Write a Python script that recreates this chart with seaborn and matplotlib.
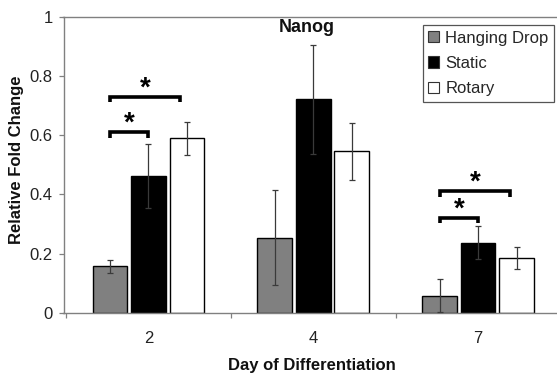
import matplotlib
matplotlib.use("Agg")
import matplotlib.pyplot as plt
import seaborn as sns
import pandas as pd
import numpy as np

# ---- data ----
days = ["2", "4", "7"]
methods = ["Hanging Drop", "Static", "Rotary"]
hanging_drop = [0.158, 0.254, 0.058]
static = [0.463, 0.721, 0.237]
rotary = [0.589, 0.545, 0.186]
hanging_drop_err = [0.022, 0.160, 0.055]
static_err = [0.108, 0.185, 0.055]
rotary_err = [0.055, 0.097, 0.038]
y_ticks = [0, 0.2, 0.4, 0.6, 0.8, 1]
y_tick_labels = ["0", "0.2", "0.4", "0.6", "0.8", "1"]
# significance brackets: (day index, method a, method b, height)
sig_day = [0, 0, 2, 2]
sig_from = [0, 0, 0, 0]
sig_to = [1, 2, 1, 2]
sig_height = [0.61, 0.73, 0.32, 0.41]

colors = ["#808080", "#000000", "#ffffff"]

sns.set_style("white")
plt.rcParams["font.family"] = ["Liberation Sans", "DejaVu Sans"]

df = pd.DataFrame({
    "day": days * 3,
    "method": [m for m in methods for _ in days],
    "value": hanging_drop + static + rotary,
})
errs = [hanging_drop_err, static_err, rotary_err]

W, H = 557, 374
fig = plt.figure(figsize=(W / 100, H / 100), dpi=100)
x0, x1 = 63.5, 560.5
y0, y1 = 312.9, 16.7
ax = fig.add_axes([x0 / W, (H - y0) / H, (x1 - x0) / W, (y0 - y1) / H])

sns.barplot(data=df, x="day", y="value", hue="method", hue_order=methods,
            order=days, palette=colors, edgecolor="black", linewidth=1.0,
            width=0.7, gap=0.1, errorbar=None, ax=ax, saturation=1)

bar_containers = list(ax.containers)
centers = []
for i, cont in enumerate(bar_containers):
    cx = [p.get_x() + p.get_width() / 2 for p in cont.patches]
    hy = [p.get_height() for p in cont.patches]
    centers.append(cx)
    ax.errorbar(cx, hy, yerr=errs[i], fmt="none", ecolor="#3a3a3a",
                elinewidth=0.9, capsize=2, capthick=0.9, zorder=5)

ax.set_xlim(-0.515, 2.5)
ax.set_ylim(0, 1)

# y axis
ax.set_yticks(y_ticks)
ax.set_yticklabels(y_tick_labels)
ax.tick_params(axis="y", direction="out", length=3.6, width=0.9,
               color="#808080", labelsize=12, pad=4.3, labelcolor="#222222",
               left=True)

# x axis: ticks at category boundaries, labels centered
ax.set_xticks([-0.5, 0.5, 1.5, 2.5])
ax.set_xticklabels([])
ax.set_xticks([0, 1, 2], minor=True)
ax.set_xticklabels(days, minor=True)
ax.tick_params(axis="x", which="major", direction="out", length=3.6,
               width=0.9, color="#808080", bottom=True)
ax.tick_params(axis="x", which="minor", length=0, labelsize=12, pad=13,
               labelcolor="#222222")

for side in ["left", "bottom", "top"]:
    ax.spines[side].set_visible(True)
    ax.spines[side].set_color("#808080")
    ax.spines[side].set_linewidth(1.0)
ax.spines["right"].set_visible(False)

ax.set_xlabel("Day of Differentiation", fontsize=12, fontweight="bold",
              color="#111111")
ax.xaxis.set_label_coords(0.5, -0.152)
ax.set_ylabel("Relative Fold Change", fontsize=12, fontweight="bold",
              color="#111111")
ax.yaxis.set_label_coords(-0.0795, 0.518)

ax.text(0.489, 0.962, "Nanog", transform=ax.transAxes, ha="center",
        va="center", fontsize=13, fontweight="bold", color="#111111")

# legend
handles, labels = ax.get_legend_handles_labels()
leg = ax.legend(handles, labels, loc="upper right",
                bbox_to_anchor=(554.3 / W, (H - 24.7) / H),
                bbox_transform=fig.transFigure, fontsize=12, frameon=True,
                fancybox=False, edgecolor="#555555", framealpha=1,
                handlelength=0.66, handleheight=0.66, handletextpad=0.35,
                borderpad=0.35, labelspacing=0.62, borderaxespad=0)
leg.get_frame().set_linewidth(0.9)
for h in leg.legend_handles:
    h.set_edgecolor("#333333")
    h.set_linewidth(0.8)

# significance brackets
leg_d = 0.018
for d, a, b, h in zip(sig_day, sig_from, sig_to, sig_height):
    xa = centers[a][d]
    xb = centers[b][d] - (0.04 if b == 2 else 0.0)
    ax.plot([xa, xa, xb, xb], [h - leg_d, h, h, h - leg_d], color="black",
            lw=2.6, solid_joinstyle="miter", solid_capstyle="butt",
            zorder=6)
    ax.text((xa + xb) / 2, h + 0.005, "*", ha="center", va="baseline",
            fontsize=20, fontweight="bold", color="black")

fig.savefig("out.png", dpi=100)
